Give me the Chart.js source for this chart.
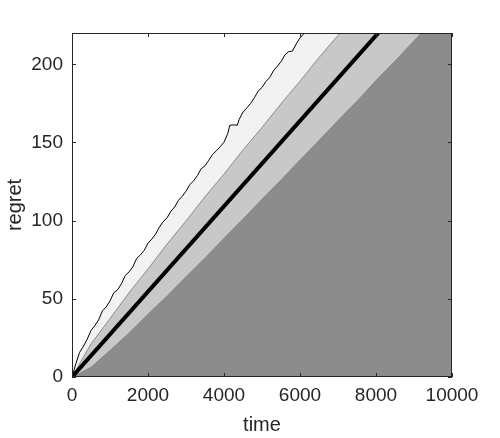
<!DOCTYPE html>
<html>
<head>
<meta charset="utf-8">
<script src="https://cdn.jsdelivr.net/npm/chart.js@4/dist/chart.umd.min.js"></script>
<style>
html,body{margin:0;padding:0;background:#fff;}
#wrap{width:500px;height:438px;}
</style>
</head>
<body>
<div id="wrap"><canvas id="c" width="500" height="438"></canvas></div>
<script>
// ---- data ----
const meanTime = [0, 10000];
const meanRegret = [0, 273];

const bandTime = [0,500,1000,1500,2000,2500,3000,3500,4000,4500,5000,5500,6000,6500,7000,7500,8000,8500,9000,9500,10000];
const bandUpper = [0,21.2,37.4,53.9,69.1,85.0,99.8,115.3,129.8,145.2,159.6,174.8,189.2,204.3,218.5,233.4,248,262.5,277,291.5,306];
const bandLower = [0,6.5,17.3,28.5,40.4,52.2,64.5,76.5,89.1,101.3,114.0,126.3,139.1,151.5,164.4,176.9,189.9,202.4,215.4,228.1,241];

const maxTime = [0,100,200,300,400,500,600,700,800,900,1000,1100,1200,1300,1400,1500,1600,1700,1800,1900,2000,
  2100,2200,2300,2400,2500,2600,2700,2800,2900,3000,3100,3200,3300,3400,3500,3600,3700,3800,3900,4000,
  4100,4150,4250,4350,4400,4500,4600,4700,4800,4900,5000,5100,5200,5300,5400,5500,5600,5700,5800,5900,6000,6100,6200,6300];
const maxRegret = [0,8.5,15.8,19.6,24.2,29.8,32.9,36.5,42.3,44.8,48.7,53.9,55.8,59.6,64.9,67.2,70.4,75.8,78.1,81.0,85.6,
  88.2,91.4,95.9,99.3,101.8,105.9,108.7,112.9,115.6,118.8,123.1,125.4,128.9,133.2,135.1,138.6,142.4,144.7,147.3,150.2,
  155.8,160.9,161.3,161.0,164.8,169.5,172.1,175.0,178.6,182.9,185.2,188.9,191.5,195.8,198.6,201.7,205.9,208.1,208.4,213.0,216.9,219.5,225.0,229.0];

const xTicks = [0,2000,4000,6000,8000,10000];
const yTicks = [0,50,100,150,200];

const pts = (xs, ys) => xs.map((x, i) => ({x: x, y: ys[i]}));
const TXT = '#262626';
const FAM = '"Liberation Sans", Arial, sans-serif';

const bgPlugin = {
  id: 'bg',
  beforeDatasetsDraw(chart) {
    const a = chart.chartArea, ctx = chart.ctx;
    ctx.save();
    ctx.fillStyle = '#f2f2f2';
    ctx.fillRect(a.left, a.top, a.right - a.left, a.bottom - a.top);
    ctx.restore();
  }
};

const boxPlugin = {
  id: 'box',
  afterDatasetsDraw(chart) {
    const a = chart.chartArea, ctx = chart.ctx;
    const xs = chart.scales.x, ys = chart.scales.y;
    const L = 4;
    ctx.save();
    ctx.strokeStyle = TXT;
    ctx.lineWidth = 1;
    ctx.strokeRect(a.left + 0.5, a.top + 0.5, a.right - a.left - 1, a.bottom - a.top - 1);
    ctx.beginPath();
    xTicks.forEach(v => {
      const p = Math.round(xs.getPixelForValue(v)) + 0.5;
      ctx.moveTo(p, a.bottom); ctx.lineTo(p, a.bottom - L);
      ctx.moveTo(p, a.top); ctx.lineTo(p, a.top + L);
    });
    yTicks.forEach(v => {
      const p = Math.round(ys.getPixelForValue(v)) + 0.5;
      ctx.moveTo(a.left, p); ctx.lineTo(a.left + L, p);
      ctx.moveTo(a.right, p); ctx.lineTo(a.right - L, p);
    });
    ctx.stroke();
    ctx.restore();
  }
};

new Chart(document.getElementById('c'), {
  type: 'line',
  data: {
    datasets: [
      {
        label: 'mean',
        data: pts(meanTime, meanRegret),
        borderColor: '#000000',
        borderWidth: 4,
        pointRadius: 0,
        fill: false,
        order: 0,
        clip: 0
      },
      {
        label: 'max',
        data: pts(maxTime, maxRegret),
        borderColor: '#000000',
        borderWidth: 1,
        pointRadius: 0,
        fill: 'end',
        backgroundColor: '#ffffff',
        order: 1,
        clip: 0
      },
      {
        label: 'upper',
        data: pts(bandTime, bandUpper),
        borderColor: '#555555',
        borderWidth: 0.6,
        pointRadius: 0,
        fill: 3,
        backgroundColor: '#c8c8c8',
        order: 2,
        clip: 0
      },
      {
        label: 'lower',
        data: pts(bandTime, bandLower),
        borderColor: '#555555',
        borderWidth: 0.6,
        pointRadius: 0,
        fill: 'start',
        backgroundColor: '#8c8c8c',
        order: 3,
        clip: 0
      }
    ]
  },
  options: {
    responsive: false,
    animation: false,
    layout: { padding: { top: 33, right: 48, left: 0, bottom: 0 } },
    plugins: { legend: { display: false }, tooltip: { enabled: false } },
    elements: { line: { tension: 0 } },
    scales: {
      x: {
        type: 'linear',
        min: 0, max: 10000,
        afterFit(s) { s.height = 61; },
        afterBuildTicks(s) { s.ticks = xTicks.map(v => ({value: v})); },
        grid: { display: false, drawTicks: false },
        border: { display: false },
        ticks: { color: TXT, font: { family: FAM, size: 19 }, padding: 7, maxRotation: 0, callback: v => String(v) },
        title: { display: true, text: 'time', color: TXT, font: { family: FAM, size: 20 }, padding: { top: 0, bottom: 1 } }
      },
      y: {
        type: 'linear',
        min: 0, max: 220,
        afterFit(s) { s.width = 72; },
        afterBuildTicks(s) { s.ticks = yTicks.map(v => ({value: v})); },
        grid: { display: false, drawTicks: false },
        border: { display: false },
        ticks: { color: TXT, font: { family: FAM, size: 19 }, padding: 9, callback: v => String(v) },
        title: { display: true, text: 'regret', color: TXT, font: { family: FAM, size: 20 }, padding: { top: 3, bottom: 0 } }
      }
    }
  },
  plugins: [bgPlugin, boxPlugin]
});
</script>
</body>
</html>
